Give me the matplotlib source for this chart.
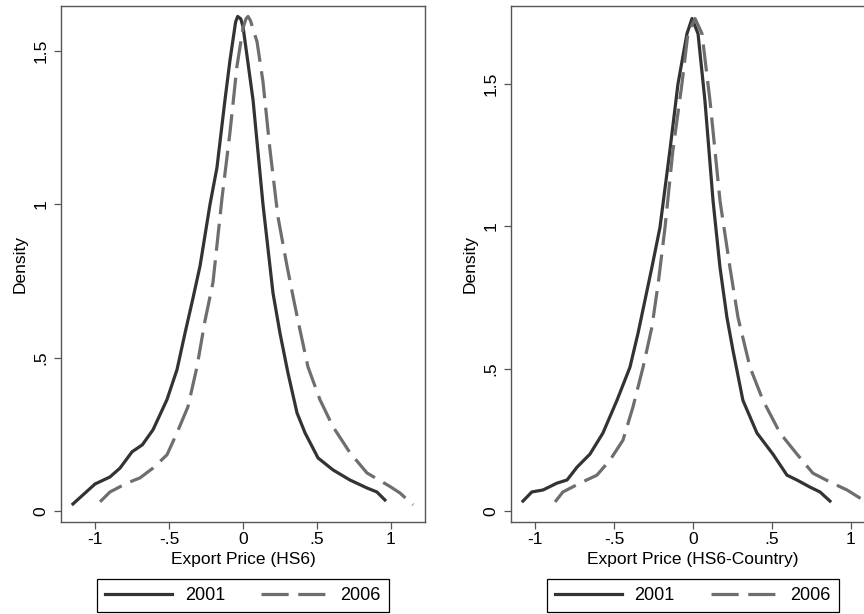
import numpy as np
import matplotlib
matplotlib.use("Agg")
import matplotlib.pyplot as plt

plt.rcParams['font.family'] = ['Liberation Sans', 'DejaVu Sans']

# left panel: export price (HS6)
hs6_x_2001 = [-1.149, -1.0, -0.899, -0.831, -0.75, -0.68, -0.608, -0.514, -0.446, -0.392, -0.34,
              -0.29, -0.223, -0.176, -0.122, -0.088, -0.05, -0.036, -0.015, 0.0, 0.068, 0.135, 0.203,
              0.25, 0.304, 0.365, 0.419, 0.507, 0.608, 0.723, 0.838, 0.905, 0.959]
hs6_y_2001 = [0.023, 0.088, 0.111, 0.14, 0.193, 0.216, 0.265, 0.363, 0.461, 0.58, 0.69,
              0.80, 1.0, 1.12, 1.34, 1.47, 1.595, 1.613, 1.605, 1.58, 1.34, 1.0, 0.71,
              0.58, 0.45, 0.32, 0.255, 0.173, 0.134, 0.101, 0.075, 0.062, 0.036]
hs6_x_2006 = [-0.966, -0.899, -0.784, -0.696, -0.608, -0.514, -0.446, -0.372, -0.311, -0.257,
              -0.203, -0.142, -0.088, -0.041, 0.0, 0.02, 0.034, 0.05, 0.095, 0.135, 0.182, 0.236,
              0.297, 0.338, 0.372, 0.439, 0.52, 0.608, 0.723, 0.838, 0.993, 1.06, 1.149]
hs6_y_2006 = [0.03, 0.062, 0.091, 0.108, 0.14, 0.183, 0.255, 0.34, 0.47, 0.62,
              0.745, 1.02, 1.235, 1.45, 1.575, 1.605, 1.613, 1.60, 1.53, 1.40, 1.18, 0.96,
              0.80, 0.70, 0.62, 0.47, 0.363, 0.275, 0.19, 0.124, 0.08, 0.059, 0.02]

# right panel: export price (HS6-country)
hsc_x_2001 = [-1.076, -1.02, -0.949, -0.861, -0.797, -0.734, -0.652, -0.57, -0.481, -0.399, -0.348,
              -0.304, -0.26, -0.209, -0.146, -0.095, -0.038, -0.006, 0.032, 0.076, 0.127, 0.171,
              0.215, 0.253, 0.316, 0.405, 0.506, 0.595, 0.658, 0.741, 0.804, 0.867]
hsc_y_2001 = [0.035, 0.067, 0.074, 0.098, 0.109, 0.154, 0.20, 0.274, 0.389, 0.505, 0.624,
              0.74, 0.856, 0.996, 1.267, 1.50, 1.677, 1.73, 1.677, 1.44, 1.09, 0.856,
              0.68, 0.565, 0.389, 0.274, 0.20, 0.126, 0.109, 0.084, 0.067, 0.035]
hsc_x_2006 = [-0.873, -0.823, -0.715, -0.608, -0.525, -0.443, -0.38, -0.316, -0.26,
              -0.22, -0.177, -0.127, -0.07, -0.032, 0.013, 0.057, 0.108, 0.171, 0.234,
              0.285, 0.361, 0.443, 0.551, 0.658, 0.759, 0.867, 0.975, 1.076, 1.13]
hsc_y_2006 = [0.032, 0.067, 0.098, 0.126, 0.179, 0.249, 0.365, 0.505, 0.646,
              0.80, 0.996, 1.267, 1.50, 1.677, 1.73, 1.677, 1.44, 1.09, 0.856,
              0.68, 0.505, 0.389, 0.274, 0.20, 0.133, 0.102, 0.074, 0.039, 0.02]

x_ticks = [-1, -0.5, 0, 0.5, 1]
x_tick_labels = ["-1", "-.5", "0", ".5", "1"]
y_ticks = [0, 0.5, 1, 1.5]
y_tick_labels = ["0", ".5", "1", "1.5"]
years = ["2001", "2006"]

c2001 = '#333333'
c2006 = '#6e6e6e'
frame = '#555555'

fig = plt.figure(figsize=(8.64, 6.14), dpi=100)
ax1 = fig.add_axes([0.0706, 0.1498, 0.4213, 0.8404])
ax2 = fig.add_axes([0.5914, 0.1498, 0.4213, 0.8404])

panels = [
    (ax1, hs6_x_2001, hs6_y_2001, hs6_x_2006, hs6_y_2006, "Export Price (HS6)", (-1.23, 1.23), (-0.036, 1.647)),
    (ax2, hsc_x_2001, hsc_y_2001, hsc_x_2006, hsc_y_2006, "Export Price (HS6-Country)", (-1.152, 1.152), (-0.0386, 1.774)),
]

for ax, x1, y1, x2, y2, xlab, xl, yl in panels:
    ax.plot(x1, y1, color=c2001, lw=2.3, solid_joinstyle='round', label=years[0])
    ax.plot(x2, y2, color=c2006, lw=2.3, dashes=(8.5, 3), dash_capstyle='butt', label=years[1])
    ax.set_xlim(*xl)
    ax.set_ylim(*yl)
    ax.set_xticks(x_ticks, x_tick_labels)
    ax.set_yticks(y_ticks, y_tick_labels)
    plt.setp(ax.get_yticklabels(), rotation=90, va='center')
    ax.tick_params(direction='out', length=5, width=0.9, color=frame, labelsize=12.5, pad=2)
    ax.tick_params(axis='y', pad=4)
    for s in ax.spines.values():
        s.set_color(frame)
        s.set_linewidth(1.0)
    ax.set_xlabel(xlab, fontsize=12.5)
    ax.xaxis.set_label_coords(0.5, -0.058)
    ax.set_ylabel("Density", fontsize=12.5)
    ax.yaxis.set_label_coords(-0.092, 0.5)
    ax.legend(loc='upper center', bbox_to_anchor=(0.5, -0.11), ncol=2, fontsize=13,
              handlelength=3.7, handletextpad=0.7, columnspacing=2.0, borderpad=0.45,
              borderaxespad=0, fancybox=False, edgecolor='black', framealpha=1)
    leg = ax.get_legend()
    leg.get_frame().set_linewidth(0.9)

fig.savefig("out.png", dpi=100)
